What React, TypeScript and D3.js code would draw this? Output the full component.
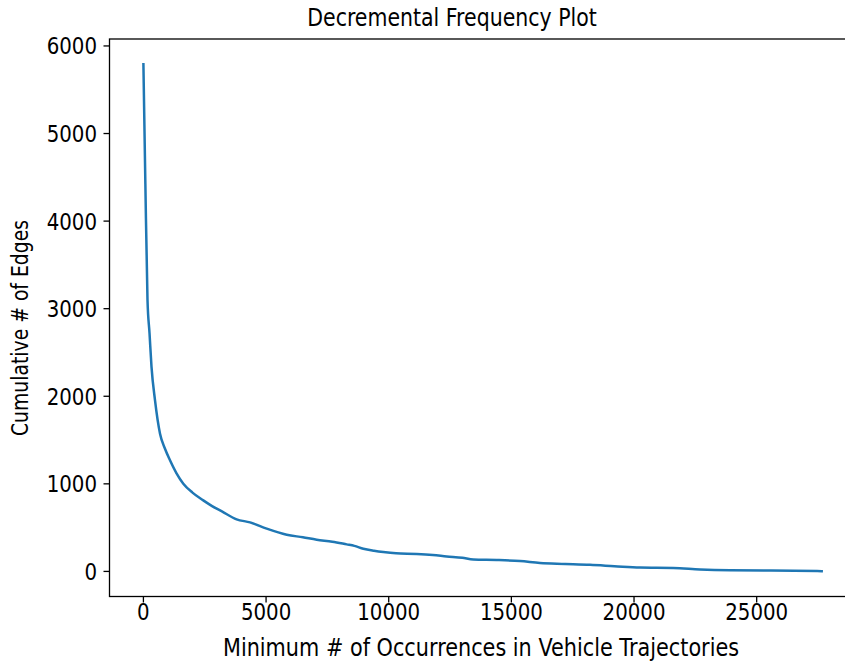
import React from "react";
import * as d3 from "d3";

const occurrences = [0, 80, 167, 249, 330, 473, 677, 880, 1084, 1350, 1627, 2000, 2442, 2800, 3200, 3800, 4346, 5026, 5842, 6500, 7065, 7700, 8288, 8600, 8965, 9400, 9780, 10300, 11141, 11800, 12364, 13000, 13449, 14400, 15352, 16168, 17200, 18206, 19200, 20244, 21602, 22690, 23913, 25500, 27650];
const edges = [5790, 4420, 3097, 2720, 2335, 1954, 1573, 1400, 1269, 1120, 1002, 900, 811, 745, 685, 595, 560, 488, 419, 390, 362, 340, 309, 292, 259, 236, 221, 207, 200, 188, 171, 155, 136, 130, 118, 96, 86, 76, 60, 44, 40, 23, 14, 11, 3];
const xTicks = [0, 5000, 10000, 15000, 20000, 25000];
const yTicks = [0, 1000, 2000, 3000, 4000, 5000, 6000];

const W = 845;
const H = 665;
const left = 109.5;
const right = 855.6;
const top = 39;
const bottom = 596.5;
const FONT = "DejaVu Sans";
const SY = 1.18;
const TICK_FS = 19.8;

export default function App() {
  const xMin = d3.min(occurrences)!;
  const xMax = d3.max(occurrences)!;
  const yMin = d3.min(edges)!;
  const yMax = d3.max(edges)!;
  const xPad = (xMax - xMin) * 0.05;
  const yPad = (yMax - yMin) * 0.05;
  const x = d3.scaleLinear().domain([xMin - xPad, xMax + xPad]).range([left, right]);
  const y = d3.scaleLinear().domain([yMin - yPad, yMax + yPad]).range([bottom, top]);
  const pts = occurrences.map((o, i) => [o, edges[i]] as [number, number]);
  const line = d3.line<[number, number]>().x((d) => x(d[0])).y((d) => y(d[1])).curve(d3.curveMonotoneX);
  const digitHalf = (0.729 * TICK_FS * SY) / 2;

  return (
    <svg width={W} height={H} style={{ position: "absolute", left: 0, top: 0, background: "#fff" }} fontFamily={FONT}>
      <rect x={0} y={0} width={W} height={H} fill="#fff" />
      <path d={line(pts) || ""} fill="none" stroke="#1f77b4" strokeWidth={2.5} strokeLinejoin="round" strokeLinecap="square" />
      <rect x={left} y={top} width={right - left} height={bottom - top} fill="none" stroke="#000" strokeWidth={1.3} />
      {yTicks.map((t) => (
        <g key={"y" + t}>
          <line x1={left - 6} x2={left} y1={y(t)} y2={y(t)} stroke="#000" strokeWidth={1.3} />
          <text transform={`translate(${left - 12.5},${y(t) + digitHalf}) scale(1,${SY})`} textAnchor="end" fontSize={TICK_FS} fill="#000">{t}</text>
        </g>
      ))}
      {xTicks.map((t) => (
        <g key={"x" + t}>
          <line x1={x(t)} x2={x(t)} y1={bottom} y2={bottom + 6} stroke="#000" strokeWidth={1.3} />
          <text transform={`translate(${x(t)},${bottom + 23}) scale(1,${SY})`} textAnchor="middle" fontSize={TICK_FS} fill="#000">{t}</text>
        </g>
      ))}
      <text transform={`translate(481,656) scale(1,${SY})`} textAnchor="middle" fontSize={20.8} fill="#000">Minimum # of Occurrences in Vehicle Trajectories</text>
      <text transform={`translate(28,328) rotate(-90) scale(1,${SY})`} textAnchor="middle" fontSize={18.8} fill="#000">Cumulative # of Edges</text>
      <text transform={`translate(452,26) scale(1,${SY})`} textAnchor="middle" fontSize={20.5} fill="#000">Decremental Frequency Plot</text>
    </svg>
  );
}
